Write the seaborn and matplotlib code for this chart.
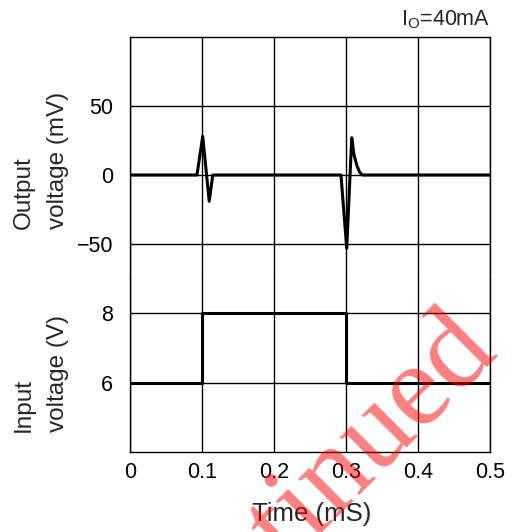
import matplotlib
matplotlib.use("Agg")
import pandas as pd
import seaborn as sns
import matplotlib.pyplot as plt

# output voltage transient (mV)
t_out = [0, 0.093, 0.101, 0.110, 0.115, 0.293, 0.301, 0.308, 0.311, 0.315, 0.319, 0.323, 0.5]
mv_out = [0, 0, 28, -19, 0, 0, -53, 27, 15, 7, 2, 0, 0]

# input voltage step (V)
t_in = [0, 0.1, 0.1, 0.3, 0.3, 0.5]
v_in = [6, 6, 8, 8, 6, 6]

x_ticks = [0, 0.1, 0.2, 0.3, 0.4, 0.5]
x_tick_labels = ["0", "0.1", "0.2", "0.3", "0.4", "0.5"]
out_ticks = [-50, 0, 50]
in_ticks = [6, 8]

sns.set_theme(style="white")
plt.rcParams["font.family"] = ["Liberation Sans", "DejaVu Sans"]

df_out = pd.DataFrame({"t": t_out, "mv": mv_out})
df_in = pd.DataFrame({"t": t_in, "v": v_in})

fig = plt.figure(figsize=(5.12, 5.32), dpi=100)
ax_out = fig.add_axes([130 / 512, 1 - 278.5 / 532, 360 / 512, 241.5 / 532])
ax_in = fig.add_axes([130 / 512, 1 - 452 / 532, 360 / 512, 173.5 / 532])

sns.lineplot(data=df_out, x="t", y="mv", ax=ax_out, color="black", lw=2.2,
             estimator=None, sort=False)
sns.lineplot(data=df_in, x="t", y="v", ax=ax_in, color="black", lw=2.2,
             estimator=None, sort=False)

for ax in (ax_out, ax_in):
    ax.set_xlim(0, 0.5)
    ax.set_xticks(x_ticks)
    ax.grid(True, color="black", lw=1.0)
    ax.set_axisbelow(True)
    for s in ax.spines.values():
        s.set_color("black")
        s.set_linewidth(1.0)
    ax.tick_params(length=0, labelsize=15.5, labelcolor="black")
    ax.set_xlabel("")
    ax.set_ylabel("")

ax_out.set_ylim(-75, 100)
ax_out.set_yticks(out_ticks)
ax_out.set_xticklabels([])
ax_out.spines["bottom"].set_visible(False)
ax_out.tick_params(axis="y", pad=12)

ax_in.set_ylim(4, 9)
ax_in.set_yticks(in_ticks)
ax_in.set_xticklabels(x_tick_labels)
ax_in.spines["top"].set_visible(False)
ax_in.tick_params(axis="y", pad=12)
ax_in.tick_params(axis="x", pad=7)

fig.text(41 / 512, 1 - 229 / 532, "Output\nvoltage (mV)", rotation=90, ha="center",
         va="bottom", multialignment="left", fontsize=17.5, linespacing=1.75)
fig.text(41 / 512, 1 - 432 / 532, "Input\nvoltage (V)", rotation=90, ha="center",
         va="bottom", multialignment="left", fontsize=17.5, linespacing=1.75)
fig.text(312 / 512, 1 - 514 / 532, "Time (mS)", ha="center", va="center", fontsize=18.5)
fig.text(490 / 512, 1 - 20 / 532, r"I$_\mathregular{O}$=40mA", ha="right", va="center",
         fontsize=15.5)

# red watermark
fig.text(499 / 512, 1 - 352 / 532, "Discontinued", rotation=45, rotation_mode="anchor",
         ha="right", va="baseline", fontsize=86, family="Liberation Serif",
         color="red", alpha=0.5, zorder=10)

fig.savefig("out.png", dpi=100)
